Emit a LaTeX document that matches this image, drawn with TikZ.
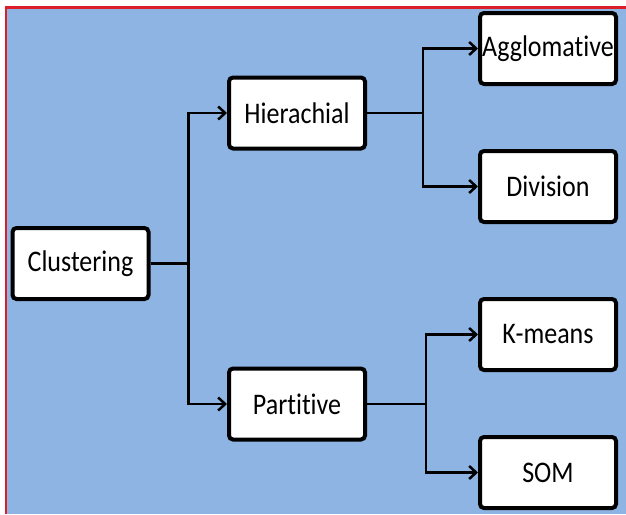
\documentclass[tikz,border=0pt]{standalone}
\usepackage{fontspec}
\setmainfont[Ligatures={NoCommon,NoDiscretionary,NoContextual}]{Carlito}
\usetikzlibrary{arrows.meta}
\definecolor{bgblue}{RGB}{141,180,226}
\definecolor{frame}{RGB}{220,30,40}
\newcommand{\tx}[1]{\scalebox{1}[1.15]{#1}}
\begin{document}
\begin{tikzpicture}[x=1pt,y=-1pt,
  box/.style={draw=black, line width=4pt, fill=white, rounded corners=4pt,
    minimum width=136pt, minimum height=71pt, inner sep=0pt,
    font=\fontsize{26}{26}\selectfont},
  conn/.style={draw=black, line width=2.5pt},
  arr/.style={conn, -{Straight Barb[length=7pt,width=13pt]}}]
\useasboundingbox (0,0) rectangle (626,514);
\fill[white] (0,0) rectangle (626,514);
\fill[bgblue] (6,8) rectangle (626,514);
\draw[frame, line width=3pt] (5,7.5) -- (626,7.5);
\draw[frame, line width=2pt] (6,7) -- (6,514);

\node[box] (clu) at (80.5,263.5) {\tx{Clustering}};
\node[box] (hie) at (297,113) {\tx{Hierachial}};
\node[box] (par) at (297,404) {\tx{Partitive}};
\node[box] (agg) at (548,48.5) {\tx{Agglomative}};
\node[box] (div) at (548,186.5) {\tx{Division}};
\node[box] (kme) at (548,334.5) {\tx{K-means}};
\node[box] (som) at (548,472.5) {\tx{SOM}};

\draw[conn] (clu.east) -- ++(38,0) coordinate (j1);
\draw[arr] (j1) |- (hie.west);
\draw[arr] (j1) |- (par.west);

\draw[conn] (hie.east) -- ++(56,0) coordinate (j2);
\draw[arr] (j2) |- (agg.west);
\draw[arr] (j2) |- (div.west);

\draw[conn] (par.east) -- ++(59,0) coordinate (j3);
\draw[arr] (j3) |- (kme.west);
\draw[arr] (j3) |- (som.west);
\end{tikzpicture}
\end{document}
